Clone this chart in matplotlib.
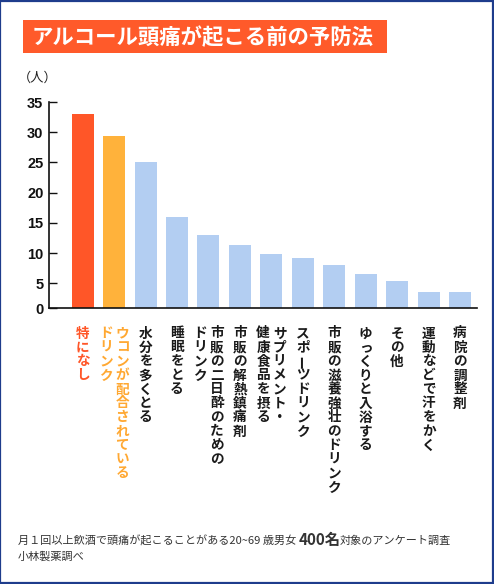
import matplotlib
matplotlib.use("Agg")
import matplotlib.pyplot as plt
from matplotlib.patches import Rectangle

W, H = 494, 584
JP = ["Noto Sans CJK JP", "DejaVu Sans"]
plt.rcParams["font.family"] = JP

title = "アルコール頭痛が起こる前の予防法"
unit = "（人）"
# each label: columns in reading order (first column is drawn rightmost)
labels = [
    ["特になし"],
    ["ウコンが配合されている", "ドリンク"],
    ["水分を多くとる"],
    ["睡眠をとる"],
    ["市販の二日酔のための", "ドリンク"],
    ["市販の解熱鎮痛剤"],
    ["サプリメント・", "健康食品を摂る"],
    ["スポーツドリンク"],
    ["市販の滋養強壮のドリンク"],
    ["ゆっくりと入浴する"],
    ["その他"],
    ["運動などで汗をかく"],
    ["病院の調整剤"],
]
values = [33, 29.4, 25, 16, 13, 11.3, 9.9, 9.2, 8.1, 6.5, 5.4, 3.6, 3.6]
yticks = [0, 5, 10, 15, 20, 25, 30, 35]
note_a = "月１回以上飲酒で頭痛が起こることがある20~69 歳男女 "
note_b = "400名"
note_c = "対象のアンケート調査"
note_2 = "小林製薬調べ"

RED, ORANGE, BLUE = "#FF5628", "#FFB23B", "#B3CEF2"
bar_colors = [RED, ORANGE] + [BLUE] * (len(values) - 2)
text_colors = [RED, "#FFA832"] + ["#1a1a1a"] * (len(values) - 2)


def fx(x):
    return x / W


def fy(y):
    return 1 - y / H


fig = plt.figure(figsize=(W / 100, H / 100), dpi=100)

# outer frame
fig.patches.append(Rectangle((0.001, 0.001), 0.997, 0.997, transform=fig.transFigure,
                             fill=False, edgecolor="#1E3C8C", linewidth=1.6))

# title box
fig.patches.append(Rectangle((fx(23), fy(53)), fx(387) - fx(23), fy(20) - fy(53),
                             transform=fig.transFigure, facecolor="#FF5A2A", edgecolor="none"))
fig.text(fx(32), fy(37), title, color="white", fontsize=15.4, fontweight="bold",
         ha="left", va="center")

fig.text(fx(18), fy(78), unit, color="#222222", fontsize=9.5, ha="left", va="center")

# axes: left 49px, right 477px, top (35) 102px, bottom 308px
ax = fig.add_axes([fx(49), fy(308), fx(477) - fx(49), fy(102) - fy(308)])
x = list(range(len(values)))
ax.bar(x, values, width=0.7, color=bar_colors, zorder=2)

y0 = 0.93  # the "0" label sits on the axis line, not at the linear zero
ax.set_ylim(y0, 35)
ax.set_xlim(-1.07, len(values) - 1 + 0.54)
ax.set_yticks([y0] + yticks[1:])
ax.set_yticklabels([str(v) for v in yticks], fontfamily="Liberation Sans",
                   fontweight="bold", fontsize=10.5, color="#111111")
ax.tick_params(axis="y", direction="in", length=6, width=1, pad=4, color="#111111")
ax.set_xticks([])
for s in ["top", "right"]:
    ax.spines[s].set_visible(False)
for s in ["left", "bottom"]:
    ax.spines[s].set_linewidth(1.2)
    ax.spines[s].set_color("#111111")

# vertical (tategaki) category labels, one glyph at a time
col_gap = 16.5
pitch = 14
for i, cols in enumerate(labels):
    n = len(cols)
    for c, col in enumerate(cols):
        dx = (n - 1) / 2 * col_gap - c * col_gap
        for k, ch in enumerate(col):
            ax.annotate(ch, xy=(i, 0), xycoords=("data", "axes fraction"),
                        xytext=(dx, -25.5 - pitch * k), textcoords="offset pixels",
                        ha="center", va="center", fontsize=9.8, fontweight="bold",
                        rotation=90 if ch == "ー" else 0,
                        color=text_colors[i], annotation_clip=False)

# footnote with bold "400名"
r = fig.canvas.get_renderer()
t1 = fig.text(fx(18), fy(541), note_a, fontsize=8.0, color="#333333", ha="left", va="center")
x1 = t1.get_window_extent(r).x1
t2 = fig.text(x1 / W, fy(540), note_b, fontsize=11.0, fontweight="bold", color="#333333",
              ha="left", va="center")
x2 = t2.get_window_extent(r).x1 - 1
fig.text(x2 / W, fy(541), note_c, fontsize=8.0, color="#333333", ha="left", va="center")
fig.text(fx(18), fy(557), note_2, fontsize=8.0, color="#333333", ha="left", va="center")

fig.savefig("out.png", dpi=100)
